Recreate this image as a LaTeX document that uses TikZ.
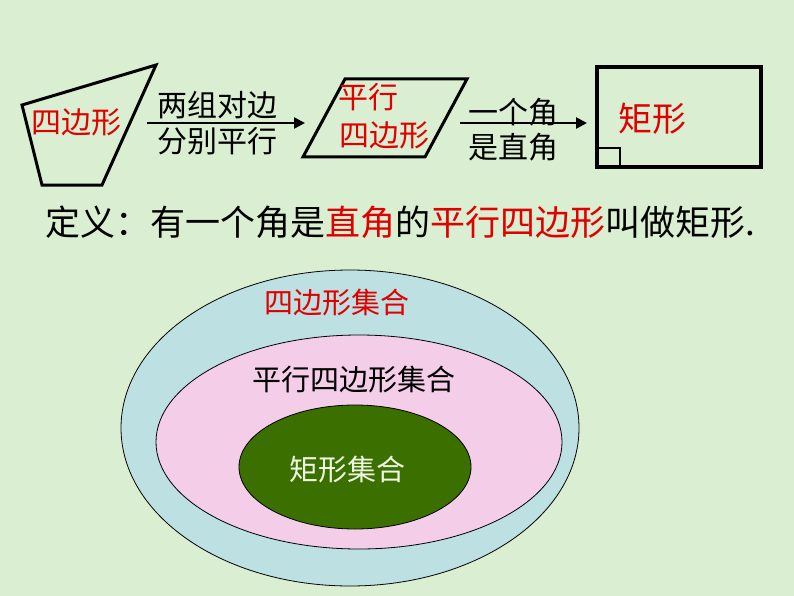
\documentclass[tikz,border=0pt]{standalone}
\usepackage{fontspec}
\setmainfont{Noto Sans CJK SC}
\usetikzlibrary{arrows.meta}
\definecolor{bg}{HTML}{DAEED2}
\definecolor{myred}{HTML}{E00000}
\definecolor{outerfill}{HTML}{BDE0E2}
\definecolor{midfill}{HTML}{F4CDE8}
\definecolor{innerfill}{HTML}{3B7000}
\definecolor{innertext}{HTML}{EEF7E0}
\tikzset{
  shapeline/.style={draw=black, line width=3pt, line join=miter},
  arr/.style={draw=black, line width=2.5pt, -{Triangle[length=11pt,width=11pt]}},
  lbl/.style={inner sep=0pt, font=\fontsize{30}{32}\selectfont},
  redlbl/.style={lbl, text=myred},
  setlbl/.style={inner sep=0pt, font=\fontsize{29}{31}\selectfont},
  setell/.style={draw=black, line width=0.8pt}
}
\begin{document}
\begin{tikzpicture}[x=1pt,y=-1pt]
\useasboundingbox (0,0) rectangle (794,596);
\fill[bg] (0,0) rectangle (794,596);
% quadrilateral
\draw[shapeline] (22,105) -- (156,65) -- (102,185) -- (42,185) -- cycle;
\node[redlbl] (quad) at (76,122) {四边形};
% arrow 1
\coordinate (a1s) at (147,123);
\coordinate (a1e) at (305,123);
\draw[arr] (a1s) -- (a1e);
\node[lbl] (t1a) at (217,105) {两组对边};
\node[lbl] (t1b) at (217,141) {分别平行};
% parallelogram
\draw[shapeline] (345,79) -- (467,79) -- (425,157) -- (303,157) -- cycle;
\node[redlbl] (par1) at (368,97) {平行};
\node[redlbl] (par2) at (384,135) {四边形};
% arrow 2
\coordinate (a2s) at (460,123);
\coordinate (a2e) at (587,123);
\draw[arr] (a2s) -- (a2e);
\node[lbl] (t2a) at (513,112) {一个角};
\node[lbl] (t2b) at (513,147) {是直角};
% rectangle
\draw[draw=black, line width=4pt] (597,67) rectangle (761,167);
\draw[draw=black, line width=1.5pt] (597,148) -- (620,148) -- (620,168);
\node[redlbl, font=\fontsize{34}{36}\selectfont] (rect) at (652,119) {矩形};
% definition
\node[lbl, font=\fontsize{35}{37}\selectfont] (def) at (400,222) {定义：有一个角是\textcolor{myred}{直角}的\textcolor{myred}{平行四边形}叫做矩形.};
% sets
\draw[setell, fill=outerfill] (350,428) ellipse [x radius=229, y radius=158];
\draw[setell, fill=midfill] (359,442) ellipse [x radius=203, y radius=107];
\draw[setell, fill=innerfill] (355,467) ellipse [x radius=116, y radius=62];
\node[setlbl, text=myred] (s1) at (337,303) {四边形集合};
\node[setlbl] (s2) at (354,380) {平行四边形集合};
\node[setlbl, text=innertext] (s3) at (347,470) {矩形集合};
\end{tikzpicture}
\end{document}
